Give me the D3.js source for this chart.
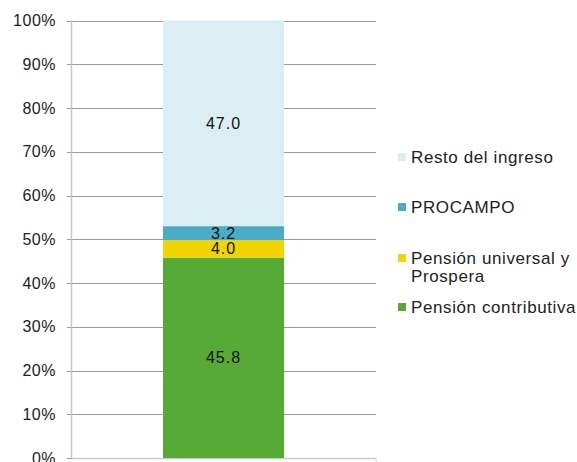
<!DOCTYPE html>
<html lang="es">
<head>
<meta charset="UTF-8">
<script src="https://d3js.org/d3.v7.min.js"></script>
<style>
    body { margin: 0; background: #fff; font-family: "Liberation Sans", Arial, sans-serif; }
</style>
</head>
<body>
<svg id="chart" width="577" height="462"></svg>
<script>
// datos
const categories = ["Total"];
const seriesNames = ["Pensión contributiva", "Pensión universal y Prospera", "PROCAMPO", "Resto del ingreso"];
const seriesValues = [45.8, 4.0, 3.2, 47.0];
const seriesColors = ["#57aa35", "#f2d400", "#4bacc6", "#dbeef4"];
const tickValues = [0, 10, 20, 30, 40, 50, 60, 70, 80, 90, 100];
const legendLines = [["Resto del ingreso"], ["PROCAMPO"], ["Pensión universal y", "Prospera"], ["Pensión contributiva"]];

const margin = { top: 20.5, left: 71, right: 201, bottom: 4 };
const W = 577, H = 462;
const svg = d3.select("#chart");

const x = d3.scaleBand().domain(categories).range([margin.left, W - margin.right]).paddingInner(0).paddingOuter(0.3);
const y = d3.scaleLinear().domain([0, 100]).range([H - margin.bottom, margin.top]);

// grid
svg.append("g").selectAll("line").data(tickValues).join("line")
    .attr("x1", margin.left - 4).attr("x2", W - margin.right)
    .attr("y1", d => Math.round(y(d)) + 0.5).attr("y2", d => Math.round(y(d)) + 0.5)
    .attr("stroke", "#9a9a9a").attr("stroke-width", 1);

// ejes
svg.append("line").attr("x1", margin.left + 0.5).attr("x2", margin.left + 0.5)
    .attr("y1", y(100)).attr("y2", y(0)).attr("stroke", "#c8c8c8").attr("stroke-width", 1.5);
svg.append("line").attr("x1", margin.left).attr("x2", W - margin.right)
    .attr("y1", Math.round(y(0)) + 0.5).attr("y2", Math.round(y(0)) + 0.5).attr("stroke", "#c8c8c8").attr("stroke-width", 1.5);
svg.append("line").attr("x1", W - margin.right).attr("x2", W - margin.right)
    .attr("y1", y(0)).attr("y2", y(0) + 5).attr("stroke", "#c8c8c8");

svg.append("g").selectAll("text").data(tickValues).join("text")
    .attr("x", 56).attr("y", d => y(d)).attr("dy", "0.35em")
    .attr("text-anchor", "end").attr("font-size", 16).attr("letter-spacing", 0.5).attr("fill", "#222")
    .text(d => d + "%");

// barras apiladas
const stacked = [];
let acc = 0;
seriesValues.forEach((v, i) => { stacked.push({ name: seriesNames[i], v, y0: acc, y1: acc + v, color: seriesColors[i] }); acc += v; });

const bw = 121;
const bx = x(categories[0]) + x.bandwidth() / 2 - bw / 2;
svg.append("g").selectAll("rect").data(stacked).join("rect")
    .attr("x", bx).attr("width", bw)
    .attr("y", d => y(d.y1)).attr("height", d => y(d.y0) - y(d.y1))
    .attr("fill", d => d.color);

svg.append("g").selectAll("text").data(stacked).join("text")
    .attr("x", bx + bw / 2).attr("y", d => y((d.y0 + d.y1) / 2)).attr("dy", "0.35em")
    .attr("text-anchor", "middle").attr("font-size", 16).attr("letter-spacing", 1).attr("fill", "#111")
    .text(d => d.v.toFixed(1));

// leyenda
const legendColors = seriesColors.slice().reverse();
const legendY = [157, 207, 258, 307];
const lg = svg.append("g");
legendLines.forEach((lines, i) => {
    lg.append("rect").attr("x", 398).attr("y", legendY[i] - 4).attr("width", 8).attr("height", 8).attr("fill", legendColors[i]);
    lines.forEach((t, j) => {
        lg.append("text").attr("x", 411).attr("y", legendY[i] + j * 18).attr("dy", "0.35em")
            .attr("font-size", 17).attr("letter-spacing", 0.6).attr("fill", "#222").text(t);
    });
});
</script>
</body>
</html>
